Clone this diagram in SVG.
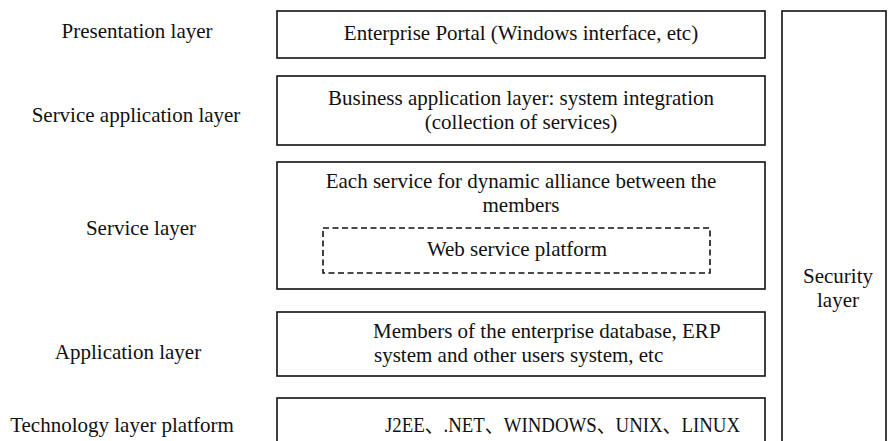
<svg xmlns="http://www.w3.org/2000/svg" width="888" height="441" viewBox="0 0 888 441">
<style>
.box{fill:#fff;stroke:#111;stroke-width:1.6}
.dash{fill:none;stroke:#111;stroke-width:1.6;stroke-dasharray:6 3.5}
.t{font-family:"Liberation Serif","Noto Sans CJK SC",serif;font-size:21px;fill:#111}
</style>
<rect width="888" height="441" fill="#fff"/>
<g id="labels" text-anchor="middle">
<text class="t" x="137" y="38">Presentation layer</text>
<text class="t" x="136" y="122">Service application layer</text>
<text class="t" x="141" y="235">Service layer</text>
<text class="t" x="128" y="359">Application layer</text>
<text class="t" x="122" y="432">Technology layer platform</text>
</g>
<g id="presentation">
<rect class="box" x="277" y="11" width="488" height="47"/>
<text class="t" text-anchor="middle" x="521" y="40">Enterprise Portal (Windows interface, etc)</text>
</g>
<g id="service-application">
<rect class="box" x="277" y="76" width="488" height="69"/>
<text class="t" text-anchor="middle" x="521" y="105">Business application layer: system integration</text>
<text class="t" text-anchor="middle" x="521" y="129">(collection of services)</text>
</g>
<g id="service">
<rect class="box" x="277" y="162" width="488" height="127"/>
<text class="t" text-anchor="middle" x="521" y="188">Each service for dynamic alliance between the</text>
<text class="t" text-anchor="middle" x="521" y="212">members</text>
</g>
<g id="web-service-platform">
<rect class="dash" x="323" y="228" width="387" height="45"/>
<text class="t" text-anchor="middle" x="517" y="256">Web service platform</text>
</g>
<g id="application">
<rect class="box" x="277" y="312" width="488" height="64"/>
<text class="t" x="373" y="338">Members of the enterprise database, ERP</text>
<text class="t" x="374" y="362">system and other users system, etc</text>
</g>
<g id="technology">
<rect class="box" x="277" y="398" width="488" height="60"/>
<text class="t" x="385" y="432" textLength="355" lengthAdjust="spacingAndGlyphs">J2EE、.NET、WINDOWS、UNIX、LINUX</text>
</g>
<g id="security">
<rect class="box" x="782" y="11" width="104" height="447"/>
<text class="t" text-anchor="middle" x="838" y="283">Security</text>
<text class="t" text-anchor="middle" x="838" y="307">layer</text>
</g>
<g id="connectors"/>
</svg>
